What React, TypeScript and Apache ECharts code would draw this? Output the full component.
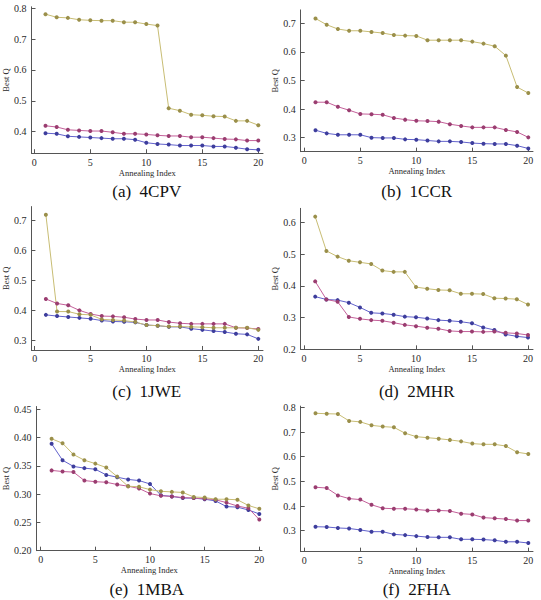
import React, { useEffect, useRef } from "react";
import * as echarts from "echarts";

// ---------- data ----------
const annealingIndex = [1, 2, 3, 4, 5, 6, 7, 8, 9, 10, 11, 12, 13, 14, 15, 16, 17, 18, 19, 20];
const xTicks = [0, 5, 10, 15, 20];

const blue4CPV = [0.395, 0.393, 0.385, 0.383, 0.381, 0.379, 0.377, 0.377, 0.374, 0.364, 0.36, 0.358, 0.355, 0.355, 0.355, 0.352, 0.352, 0.348, 0.343, 0.341];
const purple4CPV = [0.419, 0.415, 0.406, 0.404, 0.402, 0.402, 0.398, 0.393, 0.393, 0.391, 0.388, 0.386, 0.386, 0.382, 0.382, 0.379, 0.376, 0.375, 0.371, 0.371];
const gold4CPV = [0.781, 0.771, 0.769, 0.763, 0.761, 0.76, 0.76, 0.755, 0.755, 0.749, 0.744, 0.476, 0.468, 0.455, 0.453, 0.45, 0.449, 0.435, 0.435, 0.421];
const yTicks4CPV = [0.4, 0.5, 0.6, 0.7, 0.8];

const blue1CCR = [0.326, 0.315, 0.31, 0.31, 0.31, 0.3, 0.299, 0.299, 0.294, 0.293, 0.29, 0.287, 0.287, 0.285, 0.281, 0.279, 0.278, 0.278, 0.272, 0.262];
const purple1CCR = [0.424, 0.424, 0.408, 0.396, 0.383, 0.382, 0.38, 0.369, 0.363, 0.359, 0.358, 0.356, 0.347, 0.341, 0.336, 0.336, 0.336, 0.327, 0.32, 0.301];
const gold1CCR = [0.717, 0.695, 0.68, 0.674, 0.674, 0.67, 0.666, 0.659, 0.657, 0.656, 0.641, 0.641, 0.641, 0.641, 0.636, 0.629, 0.62, 0.587, 0.477, 0.456];
const yTicks1CCR = [0.3, 0.4, 0.5, 0.6, 0.7];

const blue1JWE = [0.386, 0.382, 0.379, 0.376, 0.373, 0.367, 0.364, 0.363, 0.361, 0.352, 0.35, 0.346, 0.346, 0.34, 0.336, 0.332, 0.329, 0.323, 0.321, 0.306];
const purple1JWE = [0.439, 0.424, 0.418, 0.401, 0.389, 0.382, 0.381, 0.378, 0.372, 0.369, 0.369, 0.362, 0.358, 0.356, 0.356, 0.356, 0.356, 0.343, 0.342, 0.339];
const gold1JWE = [0.72, 0.397, 0.397, 0.388, 0.386, 0.371, 0.369, 0.367, 0.362, 0.352, 0.35, 0.347, 0.347, 0.346, 0.345, 0.343, 0.343, 0.343, 0.343, 0.336];
const yTicks1JWE = [0.3, 0.4, 0.5, 0.6, 0.7];

const blue2MHR = [0.366, 0.357, 0.355, 0.347, 0.332, 0.315, 0.313, 0.309, 0.303, 0.301, 0.297, 0.292, 0.29, 0.287, 0.282, 0.269, 0.261, 0.247, 0.241, 0.237];
const purple2MHR = [0.414, 0.357, 0.35, 0.302, 0.296, 0.292, 0.29, 0.284, 0.277, 0.273, 0.268, 0.265, 0.258, 0.256, 0.256, 0.255, 0.256, 0.252, 0.25, 0.245];
const gold2MHR = [0.618, 0.51, 0.492, 0.479, 0.474, 0.469, 0.448, 0.444, 0.444, 0.396, 0.391, 0.387, 0.386, 0.375, 0.375, 0.374, 0.361, 0.36, 0.358, 0.341];
const yTicks2MHR = [0.2, 0.3, 0.4, 0.5, 0.6];

const blue1MBA = [0.389, 0.36, 0.349, 0.346, 0.344, 0.334, 0.33, 0.326, 0.324, 0.318, 0.298, 0.296, 0.293, 0.293, 0.291, 0.288, 0.278, 0.277, 0.272, 0.265];
const purple1MBA = [0.342, 0.34, 0.339, 0.324, 0.322, 0.321, 0.317, 0.314, 0.31, 0.301, 0.297, 0.296, 0.294, 0.293, 0.292, 0.29, 0.285, 0.279, 0.275, 0.255];
const gold1MBA = [0.398, 0.39, 0.37, 0.36, 0.354, 0.347, 0.331, 0.314, 0.313, 0.308, 0.305, 0.304, 0.303, 0.295, 0.294, 0.291, 0.291, 0.29, 0.28, 0.274];
const yTicks1MBA = [0.2, 0.25, 0.3, 0.35, 0.4, 0.45];

const blue2FHA = [0.316, 0.315, 0.311, 0.309, 0.303, 0.296, 0.296, 0.285, 0.282, 0.278, 0.274, 0.273, 0.273, 0.265, 0.265, 0.264, 0.261, 0.255, 0.255, 0.25];
const purple2FHA = [0.476, 0.473, 0.443, 0.43, 0.426, 0.405, 0.391, 0.389, 0.389, 0.386, 0.382, 0.382, 0.38, 0.369, 0.366, 0.353, 0.35, 0.347, 0.341, 0.341];
const gold2FHA = [0.776, 0.774, 0.773, 0.745, 0.741, 0.727, 0.722, 0.719, 0.695, 0.681, 0.677, 0.673, 0.668, 0.662, 0.653, 0.65, 0.65, 0.643, 0.618, 0.611];
const yTicks2FHA = [0.3, 0.4, 0.5, 0.6, 0.7, 0.8];

// ---------- layout / style ----------
const SERIF = "Liberation Serif, serif";
const AXIS_COLOR = "#555";
const TEXT_COLOR = "#2a2a2a";
const STYLE = {
  blue: { line: "#6262cc", dot: "#3d3d9c" },
  purple: { line: "#c4609a", dot: "#9a3d70" },
  gold: { line: "#c8bd74", dot: "#9a8f4a" },
};

const panels = [
  { label: "(a)", name: "4CPV", blue: blue4CPV, purple: purple4CPV, gold: gold4CPV, yTicks: yTicks4CPV, dec: 1,
    x0: 34.3, ppu: 11.2, axL: 31.5, axR: 263, yRef: 0.8, yRefPx: 8.33, ppv: 308.3, ymin: 0.33, ymax: 0.805, capX: 146.7, capY: 191.2, yGap: 16 },
  { label: "(b)", name: "1CCR", blue: blue1CCR, purple: purple1CCR, gold: gold1CCR, yTicks: yTicks1CCR, dec: 1,
    x0: 304.3, ppu: 11.2, axL: 300.7, axR: 533, yRef: 0.7, yRefPx: 23.33, ppv: 285.8, ymin: 0.251, ymax: 0.747, capX: 416.7, capY: 191.0, yGap: 16 },
  { label: "(c)", name: "1JWE", blue: blue1JWE, purple: purple1JWE, gold: gold1JWE, yTicks: yTicks1JWE, dec: 1,
    x0: 34.3, ppu: 11.2, axL: 31, axR: 263, yRef: 0.7, yRefPx: 220.67, ppv: 300, ymin: 0.269, ymax: 0.747, capX: 146.7, capY: 391.2, yGap: 16 },
  { label: "(d)", name: "2MHR", blue: blue2MHR, purple: purple2MHR, gold: gold2MHR, yTicks: yTicks2MHR, dec: 1,
    x0: 304, ppu: 11.2, axL: 300.7, axR: 533, yRef: 0.6, yRefPx: 222.33, ppv: 317.5, ymin: 0.2, ymax: 0.644, capX: 416.7, capY: 391.2, yGap: 16 },
  { label: "(e)", name: "1MBA", blue: blue1MBA, purple: purple1MBA, gold: gold1MBA, yTicks: yTicks1MBA, dec: 2,
    x0: 39.3, ppu: 11.0, axL: 35, axR: 262, yRef: 0.45, yRefPx: 409.33, ppv: 565.4, ymin: 0.2, ymax: 0.455, capX: 146.7, capY: 589.5, yGap: 20 },
  { label: "(f)", name: "2FHA", blue: blue2FHA, purple: purple2FHA, gold: gold2FHA, yTicks: yTicks2FHA, dec: 1,
    x0: 304.3, ppu: 11.2, axL: 300.7, axR: 533, yRef: 0.8, yRefPx: 407.33, ppv: 246.7, ymin: 0.215, ymax: 0.805, capX: 416.7, capY: 589.5, yGap: 16 },
];

function buildOption() {
  const grid: any[] = [];
  const xAxis: any[] = [];
  const yAxis: any[] = [];
  const series: any[] = [];
  const graphic: any[] = [];

  panels.forEach((p, i) => {
    const top = p.yRefPx - (p.ymax - p.yRef) * p.ppv;
    const bottom = p.yRefPx + (p.yRef - p.ymin) * p.ppv;
    grid.push({ left: p.axL, top, width: p.axR - p.axL, height: bottom - top, containLabel: false });

    xAxis.push({
      type: "value",
      gridIndex: i,
      min: (p.axL - p.x0) / p.ppu,
      max: (p.axR - p.x0) / p.ppu,
      axisLine: { show: true, onZero: false, lineStyle: { color: AXIS_COLOR, width: 1 } },
      axisTick: { show: true, inside: true, length: 4, customValues: xTicks, lineStyle: { color: AXIS_COLOR } },
      axisLabel: {
        customValues: xTicks,
        fontFamily: SERIF,
        fontSize: 10,
        color: TEXT_COLOR,
        margin: 4,
        formatter: (v: number) => String(Math.round(v)),
      },
      splitLine: { show: false },
      name: "Annealing Index",
      nameLocation: "middle",
      nameGap: 13,
      nameTextStyle: { fontFamily: SERIF, fontSize: 8.5, color: TEXT_COLOR },
    });

    yAxis.push({
      type: "value",
      gridIndex: i,
      min: p.ymin,
      max: p.ymax,
      axisLine: { show: true, onZero: false, lineStyle: { color: AXIS_COLOR, width: 1 } },
      axisTick: { show: true, inside: true, length: 4, customValues: p.yTicks, lineStyle: { color: AXIS_COLOR } },
      axisLabel: {
        customValues: p.yTicks,
        fontFamily: SERIF,
        fontSize: 10,
        color: TEXT_COLOR,
        margin: 5,
        formatter: (v: number) => v.toFixed(p.dec),
      },
      splitLine: { show: false },
      name: "Best Q",
      nameLocation: "middle",
      nameGap: p.yGap,
      nameRotate: 90,
      nameTextStyle: { fontFamily: SERIF, fontSize: 8.5, color: TEXT_COLOR },
    });

    (["blue", "purple", "gold"] as const).forEach((k) => {
      const vals = (p as any)[k] as number[];
      series.push({
        type: "line",
        xAxisIndex: i,
        yAxisIndex: i,
        data: annealingIndex.map((x, j) => [x, vals[j]]),
        symbol: "circle",
        symbolSize: 4,
        showSymbol: true,
        lineStyle: { color: STYLE[k].line, width: 1 },
        itemStyle: { color: STYLE[k].dot },
        silent: true,
      });
    });

    graphic.push({
      type: "text",
      x: p.capX,
      y: p.capY,
      style: {
        text: p.label + "\u00a0 " + p.name,
        fontFamily: SERIF,
        fontSize: 17,
        fill: "#111",
        textAlign: "center",
        textVerticalAlign: "middle",
      },
    });
  });

  return { animation: false, backgroundColor: "#fff", grid, xAxis, yAxis, series, graphic };
}

export default function App() {
  const ref = useRef<HTMLDivElement>(null);
  useEffect(() => {
    const chart = echarts.init(ref.current!, null, { renderer: "svg" });
    chart.setOption(buildOption() as any);
    return () => chart.dispose();
  }, []);
  return (
    <div
      ref={ref}
      style={{ position: "fixed", left: 0, top: 0, width: 541, height: 600, background: "#fff" }}
    />
  );
}
